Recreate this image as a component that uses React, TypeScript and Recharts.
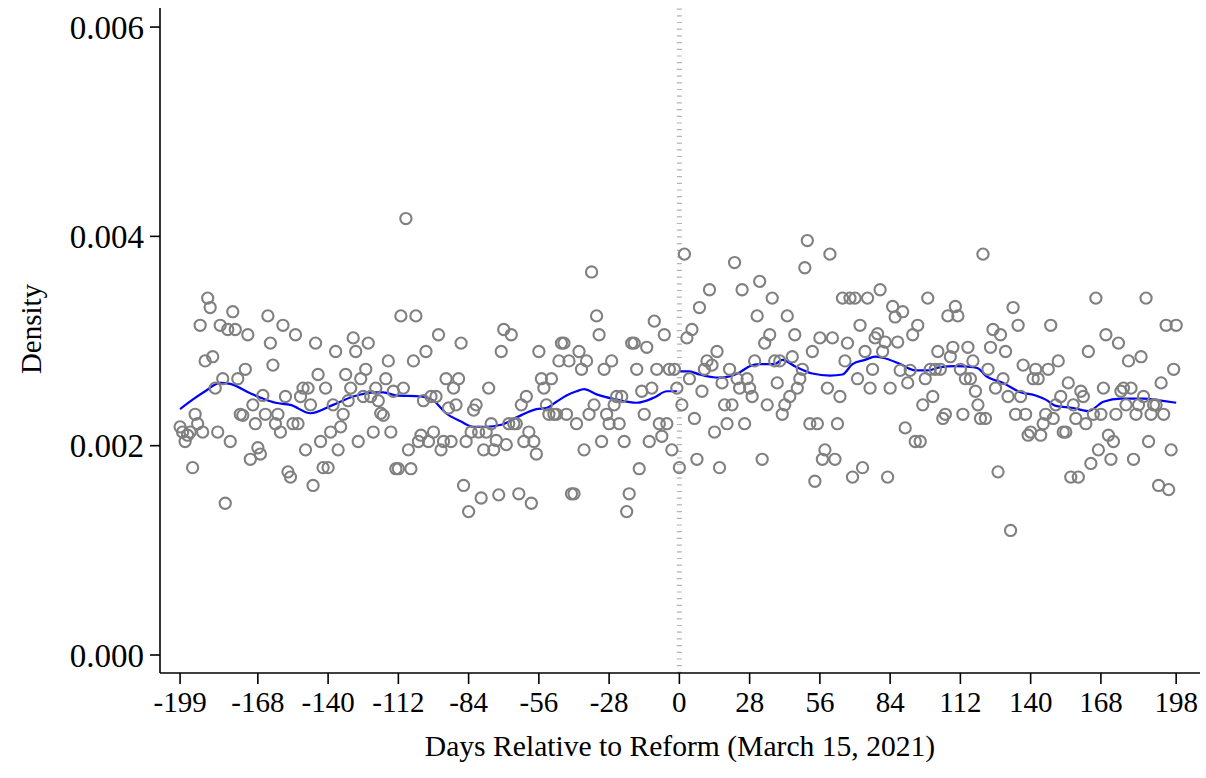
import React from 'react';
import {
  ComposedChart,
  Scatter,
  Line,
  XAxis,
  YAxis,
  ReferenceLine,
} from 'recharts';

// Daily density values (in units of 0.001)
// Days -199 .. -161
const densityA = [2.18, 2.13, 2.04, 2.10, 2.13, 1.79, 2.30, 2.21, 3.15, 2.13, 2.81, 3.41, 3.32, 2.85, 2.55, 2.13, 3.15, 2.64, 1.45, 3.11, 2.04, 3.28, 3.11, 2.64, 2.30, 2.29, 2.73, 3.06, 1.87, 2.39, 2.21, 1.98, 1.92, 2.48, 2.30, 3.24, 2.98, 2.77, 2.21];
// Days -160 .. -121
const densityB = [2.30, 2.13, 3.15, 2.47, 1.75, 1.70, 2.21, 3.06, 2.21, 2.47, 2.55, 1.96, 2.55, 2.39, 1.62, 2.98, 2.68, 2.04, 1.79, 2.55, 1.79, 2.13, 2.39, 2.90, 1.96, 2.18, 2.30, 2.68, 2.43, 2.55, 3.03, 2.90, 2.04, 2.64, 2.47, 2.73, 2.98, 2.47, 2.13, 2.55];
// Days -120 .. -82
const densityC = [2.43, 2.31, 2.29, 2.64, 2.81, 2.13, 2.52, 1.78, 1.78, 3.24, 2.55, 4.17, 1.96, 1.78, 2.81, 3.24, 2.04, 2.10, 2.43, 2.90, 2.04, 2.47, 2.13, 2.47, 3.06, 1.96, 2.04, 2.64, 2.36, 2.04, 2.55, 2.39, 2.64, 2.98, 1.62, 2.04, 1.37, 2.13, 2.34];
// Days -81 .. -41
const densityD = [2.39, 2.13, 1.50, 1.96, 2.13, 2.55, 2.21, 1.96, 2.05, 1.53, 2.90, 3.11, 2.01, 2.21, 3.06, 2.21, 2.21, 1.54, 2.39, 2.04, 2.47, 2.13, 1.45, 2.04, 1.92, 2.90, 2.64, 2.55, 2.39, 2.30, 2.64, 2.30, 2.30, 2.81, 2.98, 2.98, 2.30, 2.81, 1.54, 1.54, 2.21];
// Days -40 .. -1
const densityE = [2.90, 2.73, 1.96, 2.81, 2.30, 3.66, 2.39, 3.24, 3.06, 2.04, 2.73, 2.30, 2.21, 2.81, 2.39, 2.47, 2.21, 2.47, 2.04, 1.37, 1.54, 2.98, 2.98, 2.73, 1.78, 2.52, 2.30, 2.94, 2.04, 2.55, 3.19, 2.73, 2.21, 2.09, 3.06, 2.21, 2.73, 1.96, 2.73, 2.55];
// Days 0 .. 40
const densityF = [1.79, 2.39, 3.83, 3.03, 2.64, 3.11, 2.26, 1.87, 3.32, 2.52, 2.73, 2.81, 3.49, 2.77, 2.13, 2.90, 1.79, 2.60, 2.39, 2.21, 2.73, 2.39, 3.75, 2.64, 2.55, 3.49, 2.21, 2.64, 2.55, 2.47, 2.81, 3.24, 3.57, 1.87, 2.98, 2.39, 3.06, 3.41, 2.81, 2.60, 2.81];
// Days 41 .. 78
const densityG = [2.30, 2.39, 3.24, 2.47, 2.85, 3.06, 2.55, 2.64, 2.73, 3.70, 3.96, 2.21, 2.90, 1.66, 2.21, 3.03, 1.87, 1.96, 2.55, 3.83, 3.03, 1.87, 2.21, 2.47, 3.41, 2.81, 2.98, 3.41, 1.70, 3.41, 2.64, 3.15, 1.79, 2.90, 3.41, 2.55, 2.73, 3.03];
// Days 79 .. 118
const densityH = [3.07, 3.49, 2.90, 2.99, 1.70, 2.55, 3.33, 3.23, 2.99, 2.72, 3.28, 2.17, 2.60, 2.72, 3.06, 2.04, 3.15, 2.04, 2.39, 2.64, 3.41, 2.73, 2.47, 2.73, 2.90, 2.73, 2.26, 2.30, 3.24, 2.85, 2.94, 3.33, 3.24, 2.73, 2.30, 2.64, 2.94, 2.64, 2.81, 2.52];
// Days 119 .. 158
const densityI = [2.39, 2.26, 3.83, 2.26, 2.73, 2.94, 3.11, 2.55, 1.75, 3.06, 2.64, 2.90, 2.47, 1.19, 3.32, 2.30, 3.15, 2.47, 2.77, 2.30, 2.10, 2.13, 2.64, 2.73, 2.64, 2.10, 2.21, 2.30, 2.73, 3.15, 2.26, 2.39, 2.81, 2.47, 2.13, 2.13, 2.60, 1.70, 2.39, 2.26];
// Days 159 .. 198
const densityJ = [1.70, 2.52, 2.47, 2.21, 2.90, 1.83, 2.30, 3.41, 1.96, 2.30, 2.55, 3.06, 2.10, 1.87, 2.04, 2.30, 2.98, 2.52, 2.55, 2.39, 2.81, 2.55, 1.87, 2.30, 2.39, 2.85, 2.47, 3.41, 2.04, 2.30, 2.39, 2.39, 1.62, 2.60, 2.30, 3.15, 1.58, 1.96, 2.73, 3.15];

const segments: [number, number[]][] = [
  [-199, densityA],
  [-160, densityB],
  [-120, densityC],
  [-81, densityD],
  [-40, densityE],
  [0, densityF],
  [41, densityG],
  [79, densityH],
  [119, densityI],
  [159, densityJ],
];

// Smoothed fit (blue), before and after the reform
const fitPreDays = [-199, -194, -189, -183, -179, -171, -166, -161, -155, -147, -138, -130, -121, -118, -113, -103, -98, -93, -87, -82, -77, -71, -64, -57, -53, -49, -45, -41, -38, -33, -25, -17, -10, -5, -1];
const fitPreValues = [2.35, 2.44, 2.52, 2.60, 2.59, 2.50, 2.45, 2.41, 2.39, 2.31, 2.39, 2.47, 2.51, 2.51, 2.48, 2.47, 2.43, 2.31, 2.23, 2.18, 2.18, 2.20, 2.28, 2.35, 2.36, 2.42, 2.48, 2.52, 2.54, 2.49, 2.44, 2.41, 2.46, 2.52, 2.52];
const fitPostDays = [0, 4, 8, 16, 24, 28, 32, 38, 41, 46, 53, 60, 65, 69, 74, 78, 81, 88, 94, 99, 104, 110, 117, 119, 122, 129, 136, 142, 146, 150, 157, 163, 169, 176, 185, 192, 198];
const fitPostValues = [2.71, 2.71, 2.68, 2.65, 2.70, 2.76, 2.78, 2.78, 2.82, 2.76, 2.69, 2.67, 2.68, 2.78, 2.82, 2.85, 2.84, 2.78, 2.72, 2.72, 2.75, 2.76, 2.75, 2.74, 2.67, 2.60, 2.51, 2.48, 2.44, 2.38, 2.36, 2.33, 2.42, 2.45, 2.45, 2.43, 2.41];

const xTicks = [-199, -168, -140, -112, -84, -56, -28, 0, 28, 56, 84, 112, 140, 168, 198];
const yTicks = [0, 2, 4, 6];

const points = segments.flatMap(([start, vals]) => vals.map((v, i) => ({ x: start + i, y: v })));
const fitPre = fitPreDays.map((d, i) => ({ x: d, y: fitPreValues[i] }));
const fitPost = fitPostDays.map((d, i) => ({ x: d, y: fitPostValues[i] }));

const FONT = '"Liberation Serif", "Times New Roman", serif';

const HollowCircle = (props: any) => {
  const { cx, cy } = props;
  if (cx == null || cy == null) return null;
  return <circle cx={cx} cy={cy} r={5.6} fill="none" stroke="#808080" strokeWidth={2.1} />;
};

const YTitle = () => (
  <text
    x={41}
    y={329}
    transform="rotate(-90, 41, 329)"
    textAnchor="middle"
    fontFamily={FONT}
    fontSize={29}
    fill="#000"
  >
    Density
  </text>
);

export default function App() {
  return (
    <div style={{ position: 'absolute', left: 0, top: 0, width: 1206, height: 778, background: '#fff' }}>
      <ComposedChart width={1206} height={778} margin={{ top: 8, right: 6, bottom: 0, left: 0 }}>
        <XAxis
          dataKey="x"
          type="number"
          domain={[-207, 207.5]}
          allowDataOverflow
          ticks={xTicks}
          interval={0}
          height={105}
          tickSize={11}
          tickMargin={7}
          axisLine={{ stroke: '#000', strokeWidth: 1.6 }}
          tickLine={{ stroke: '#000', strokeWidth: 1.6 }}
          tick={{ fill: '#000', fontSize: 29, fontFamily: FONT }}
          label={{
            value: 'Days Relative to Reform (March 15, 2021)',
            position: 'insideBottom',
            offset: 22,
            fill: '#000',
            fontSize: 29.6,
            fontFamily: FONT,
          }}
        />
        <YAxis
          dataKey="y"
          type="number"
          domain={[-0.172, 6.182]}
          allowDataOverflow
          ticks={yTicks}
          interval={0}
          width={160}
          tickSize={10}
          tickMargin={6}
          tickFormatter={(v: number) => (v / 1000).toFixed(3)}
          axisLine={{ stroke: '#000', strokeWidth: 1.6 }}
          tickLine={{ stroke: '#000', strokeWidth: 1.6 }}
          tick={{ fill: '#000', fontSize: 33, fontFamily: FONT }}
          label={<YTitle />}
        />
        <ReferenceLine x={0} stroke="#b4b4b4" strokeWidth={5} strokeDasharray="1.2 5.5" />
        <Scatter data={points} dataKey="y" shape={<HollowCircle />} isAnimationActive={false} />
        <Line data={fitPre} dataKey="y" type="monotone" stroke="#0000ff" strokeWidth={2.2} dot={false} isAnimationActive={false} />
        <Line data={fitPost} dataKey="y" type="monotone" stroke="#0000ff" strokeWidth={2.2} dot={false} isAnimationActive={false} />
      </ComposedChart>
    </div>
  );
}
